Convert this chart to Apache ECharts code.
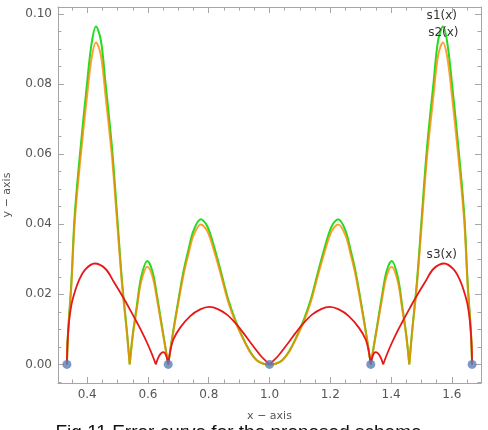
<!DOCTYPE html>
<html><head><meta charset="utf-8">
<script src="https://cdn.jsdelivr.net/npm/echarts@6/dist/echarts.min.js"></script>
<style>html,body{margin:0;padding:0;background:#fff}#c{width:488px;height:430px}</style>
</head><body><div id="c"></div>
<script>
// x positions shared by s1 and s2 (null in values = break at a cusp)
const xS12 = [
  0.3333,0.337,0.348,0.359,0.378,0.400,0.415,0.429,0.445,0.460,0.482,0.4985,0.515,0.531,0.540,
  0.540,
  0.540,0.550,0.563,0.578,0.598,0.615,0.630,0.645,0.6667,
  0.6667,
  0.6667,0.680,0.700,0.718,0.733,0.750,0.774,0.795,0.821,0.843,0.865,0.887,0.909,0.934,0.958,0.980,1.0,
  1.020,1.042,1.066,1.091,1.113,1.135,1.157,1.179,1.205,1.226,1.250,1.267,1.282,1.300,1.320,1.3333,
  1.3333,
  1.3333,1.355,1.370,1.385,1.402,1.422,1.437,1.450,1.460,
  1.460,
  1.460,1.469,1.485,1.5015,1.518,1.540,1.555,1.571,1.585,1.600,1.622,1.641,1.652,1.663,1.6667
];
const s1 = [
  0,0.009,0.0235,0.0426,0.0616,0.0806,0.0918,0.0964,0.0925,0.0806,0.0616,0.0426,0.0235,0.0092,0,
  null,
  0,0.0085,0.0165,0.025,0.0295,0.0265,0.0195,0.0115,0,
  null,
  0,0.0078,0.0183,0.027,0.0326,0.0382,0.0414,0.0395,0.0326,0.0255,0.0183,0.0128,0.0083,0.0040,0.0012,0.0002,0,
  0.0002,0.0012,0.0040,0.0083,0.0128,0.0183,0.0255,0.0326,0.0395,0.0414,0.0382,0.0326,0.027,0.0183,0.0078,0,
  null,
  0,0.0115,0.0195,0.0265,0.0295,0.025,0.0165,0.0085,0,
  null,
  0,0.0092,0.0235,0.0426,0.0616,0.0806,0.0925,0.0964,0.0918,0.0806,0.0616,0.0426,0.0235,0.009,0
];
const s2 = [
  0,0.0087,0.0225,0.0407,0.0589,0.0770,0.0877,0.0919,0.0883,0.0770,0.0589,0.0407,0.0225,0.0088,0,
  null,
  0,0.0081,0.0157,0.0237,0.0279,0.0251,0.0185,0.0109,0,
  null,
  0,0.0075,0.0176,0.026,0.0314,0.0368,0.0399,0.0381,0.0314,0.0246,0.0176,0.0123,0.0080,0.0038,0.0012,0.0002,0,
  0.0002,0.0012,0.0038,0.0080,0.0123,0.0176,0.0246,0.0314,0.0381,0.0399,0.0368,0.0314,0.026,0.0176,0.0075,0,
  null,
  0,0.0109,0.0185,0.0251,0.0279,0.0237,0.0157,0.0081,0,
  null,
  0,0.0088,0.0225,0.0407,0.0589,0.0770,0.0883,0.0919,0.0877,0.0770,0.0589,0.0407,0.0225,0.0087,0
];
const xS3 = [
  0.3333,0.3350,0.3385,0.3435,0.350,0.360,0.372,0.394,0.425,0.460,0.488,0.5205,0.545,0.563,0.580,0.596,0.612,0.626,
  0.626,
  0.626,0.637,0.651,0.660,0.6667,
  0.6667,
  0.6667,0.675,0.684,0.706,0.739,0.772,0.802,0.830,0.860,0.893,0.914,0.936,0.969,1.0,
  1.0,
  1.0,1.031,1.064,1.086,1.107,1.140,1.170,1.198,1.228,1.261,1.294,1.316,1.325,1.3333,
  1.3333,
  1.3333,1.340,1.349,1.363,1.374,
  1.374,
  1.374,1.388,1.404,1.420,1.437,1.455,1.4795,1.512,1.540,1.575,1.606,1.628,1.640,1.650,1.6565,1.6615,1.6650,1.6667
];
const s3 = [
  0,0.0055,0.0105,0.0145,0.0178,0.0209,0.0238,0.0271,0.0288,0.0273,0.0235,0.0188,0.015,0.0121,0.0093,0.0064,0.0032,0,
  null,
  0,0.0025,0.0035,0.0025,0,
  null,
  0,0.0045,0.0072,0.0105,0.0138,0.0157,0.0164,0.0158,0.0142,0.0113,0.009,0.0064,0.0027,0,
  null,
  0,0.0027,0.0064,0.009,0.0113,0.0142,0.0158,0.0164,0.0157,0.0138,0.0105,0.0072,0.0045,0,
  null,
  0,0.0025,0.0035,0.0025,0,
  null,
  0,0.0032,0.0064,0.0093,0.0121,0.015,0.0188,0.0235,0.0273,0.0288,0.0271,0.0238,0.0209,0.0178,0.0145,0.0105,0.0055,0
];
const nodeX = [1/3, 2/3, 1, 4/3, 5/3];
const nodeY = [0, 0, 0, 0, 0];
const seriesNames = ['s1(x)', 's2(x)', 's3(x)'];
const labelPos = [[1.567, 0.0994], [1.572, 0.0946], [1.567, 0.0313]];
const titleText = 'Fig.11 Error curve for the proposed scheme';

function pairs(xs, ys) {
  return xs.map((x, i) => ys[i] === null ? [x, '-'] : [x, ys[i]]);
}

const frameColor = '#a6a6a6';
const FONT = 'DejaVu Sans';
function axisBase(extra) {
  return Object.assign({
    type: 'value',
    axisLine: { show: true, onZero: false, lineStyle: { color: frameColor, width: 1 } },
    axisTick: { show: true, inside: true, length: 6, lineStyle: { color: frameColor } },
    minorTick: { show: true, splitNumber: 4, length: 3.5, lineStyle: { color: frameColor } },
    splitLine: { show: false },
    minorSplitLine: { show: false }
  }, extra);
}
const xr = { min: 0.304, max: 1.696, splitNumber: 7 };
const yr = { min: -0.0053, max: 0.102, splitNumber: 6 };

const chart = echarts.init(document.getElementById('c'), null, { renderer: 'canvas' });
chart.setOption({
  animation: false,
  backgroundColor: '#fff',
  grid: { left: 58, right: 7, top: 7, bottom: 47, containLabel: false, outerBoundsMode: 'none' },
  xAxis: [
    axisBase(Object.assign({}, xr, {
      position: 'bottom',
      axisLabel: { showMinLabel: false, showMaxLabel: false, formatter: v => v.toFixed(1),
        color: '#555', fontSize: 12, fontFamily: FONT, margin: 6 },
      name: 'x \u2212 axis', nameLocation: 'middle', nameGap: 28,
      nameTextStyle: { color: '#555', fontSize: 11, fontFamily: FONT }
    })),
    axisBase(Object.assign({}, xr, { position: 'top', axisLabel: { show: false } }))
  ],
  yAxis: [
    axisBase(Object.assign({}, yr, {
      position: 'left',
      axisLabel: { showMinLabel: false, showMaxLabel: false, formatter: v => v.toFixed(2),
        color: '#555', fontSize: 12, fontFamily: FONT, margin: 6 },
      name: 'y \u2212 axis', nameLocation: 'middle', nameGap: 45,
      nameTextStyle: { color: '#555', fontSize: 11, fontFamily: FONT }
    })),
    axisBase(Object.assign({}, yr, { position: 'right', axisLabel: { show: false } }))
  ],
  series: [
    { name: seriesNames[0], type: 'line', data: pairs(xS12, s1), smooth: 0.35, connectNulls: false,
      showSymbol: false, lineStyle: { color: '#22dd22', width: 2 }, z: 2 },
    { name: seriesNames[1], type: 'line', data: pairs(xS12, s2), smooth: 0.35, connectNulls: false,
      showSymbol: false, lineStyle: { color: '#ff8800', width: 2, opacity: 0.8 }, z: 3 },
    { name: seriesNames[2], type: 'line', data: pairs(xS3, s3), smooth: 0.35, connectNulls: false,
      showSymbol: false, lineStyle: { color: '#e81818', width: 1.8 }, z: 4 },
    { type: 'scatter', data: nodeX.map((x, i) => [x, nodeY[i]]), symbolSize: 9,
      itemStyle: { color: '#5b7fb8' }, z: 5 }
  ]
});

const g = labelPos.map((p, i) => {
  const px = chart.convertToPixel({ xAxisIndex: 0, yAxisIndex: 0 }, p);
  return { type: 'text', x: px[0], y: px[1], z: 10,
    style: { text: seriesNames[i], fill: '#333', font: '12px "DejaVu Sans"', textAlign: 'center', textVerticalAlign: 'middle' } };
});
g.push({ type: 'text', x: 238.5, y: 423, z: 10,
  style: { text: titleText, fill: '#111', font: '19px "Liberation Sans"', textAlign: 'center', textVerticalAlign: 'top' } });
chart.setOption({ graphic: g });
</script>
</body></html>
